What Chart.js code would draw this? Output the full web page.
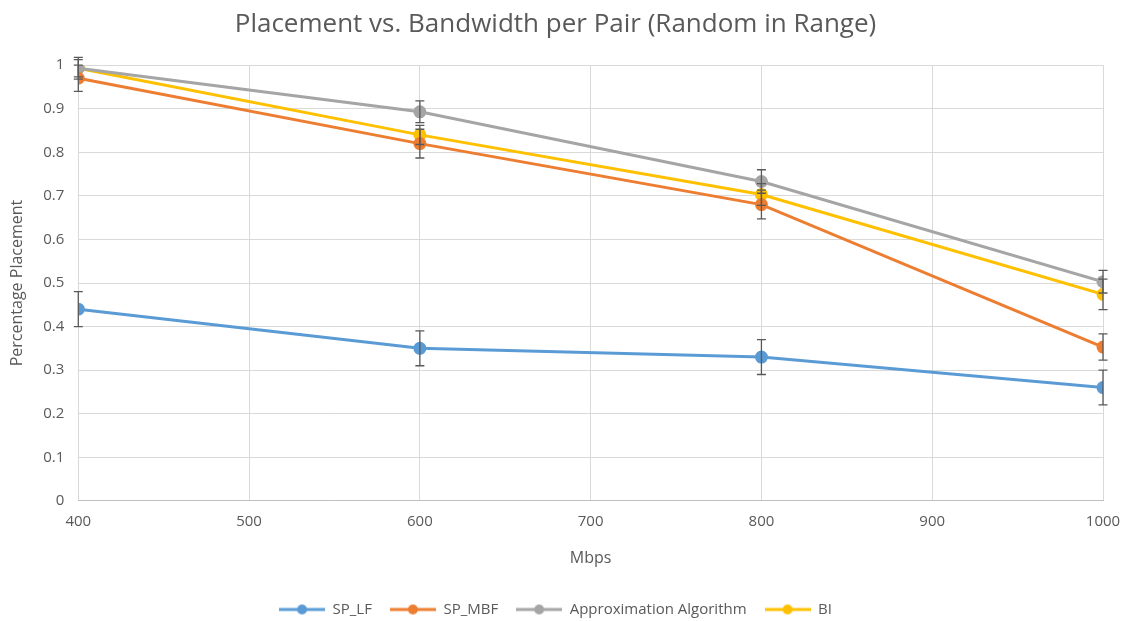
<!DOCTYPE html>
<html>
<head>
<meta charset="utf-8">
<script src="https://cdn.jsdelivr.net/npm/chart.js@4.4.1/dist/chart.umd.min.js"></script>
<style>
  html, body { margin: 0; padding: 0; background: #fff; }
  #wrap { width: 1128px; height: 621px; }
</style>
</head>
<body>
<div id="wrap"><canvas id="lineChart"></canvas></div>
<script>
const bandwidth = [400, 600, 800, 1000];
const spLf = [0.44, 0.35, 0.33, 0.26];
const spMbf = [0.97, 0.82, 0.68, 0.353];
const approxAlg = [0.993, 0.893, 0.733, 0.503];
const bi = [0.993, 0.84, 0.703, 0.474];
const spLfErr = [0.04, 0.04, 0.04, 0.04];
const spMbfErr = [0.03, 0.033, 0.033, 0.03];
const approxErr = [0.025, 0.025, 0.027, 0.026];
const biErr = [0.02, 0.022, 0.025, 0.035];

const seriesNames = ["SP_LF", "SP_MBF", "Approximation Algorithm", "BI"];
const seriesColors = ["#5B9BD5", "#ED7D31", "#A5A5A5", "#FFC000"];
const seriesValues = [spLf, spMbf, approxAlg, bi];
const seriesErrors = [spLfErr, spMbfErr, approxErr, biErr];

const fontFamily = "'Open Sans', Lato, sans-serif";

function legendIcon(color) {
    const c = document.createElement("canvas");
    c.width = 46; c.height = 12;
    const g = c.getContext("2d");
    g.strokeStyle = color;
    g.lineWidth = 3;
    g.beginPath(); g.moveTo(0, 6); g.lineTo(46, 6); g.stroke();
    g.fillStyle = color;
    g.beginPath(); g.arc(23, 6, 5, 0, Math.PI * 2); g.fill();
    return c;
}

const errorBars = {
    id: "errorBars",
    afterDatasetsDraw(chart) {
        const ctx = chart.ctx;
        const xs = chart.scales.x, ys = chart.scales.y;
        ctx.save();
        ctx.strokeStyle = "#595959";
        ctx.lineWidth = 1.3;
        chart.data.datasets.forEach((ds, i) => {
            const errs = seriesErrors[i];
            ds.data.forEach((pt, j) => {
                const x = xs.getPixelForValue(pt.x);
                const y1 = ys.getPixelForValue(pt.y + errs[j]);
                const y2 = ys.getPixelForValue(pt.y - errs[j]);
                ctx.beginPath();
                ctx.moveTo(x, y1); ctx.lineTo(x, y2);
                ctx.moveTo(x - 4.5, y1); ctx.lineTo(x + 4.5, y1);
                ctx.moveTo(x - 4.5, y2); ctx.lineTo(x + 4.5, y2);
                ctx.stroke();
            });
        });
        ctx.restore();
    }
};

const datasets = seriesNames.map((name, i) => ({
    label: name,
    data: bandwidth.map((b, j) => ({ x: b, y: seriesValues[i][j] })),
    borderColor: seriesColors[i],
    backgroundColor: seriesColors[i],
    pointBackgroundColor: seriesColors[i],
    pointBorderColor: seriesColors[i],
    borderWidth: 3,
    pointRadius: 5,
    tension: 0,
    fill: false
}));

new Chart(document.getElementById("lineChart").getContext("2d"), {
    type: "line",
    data: { datasets: datasets },
    plugins: [errorBars],
    options: {
        responsive: true,
        maintainAspectRatio: false,
        animation: false,
        layout: { padding: { left: 8, right: 25, top: 7, bottom: -6 } },
        plugins: {
            title: {
                display: true,
                text: "Placement vs. Bandwidth per Pair (Random in Range)",
                color: "#595959",
                font: { family: fontFamily, size: 26, weight: "normal" },
                padding: { top: 2, bottom: 25 }
            },
            legend: {
                position: "bottom",
                labels: {
                    color: "#595959",
                    font: { family: fontFamily, size: 15 },
                    usePointStyle: true,
                    pointStyleWidth: 46,
                    boxHeight: 12,
                    padding: 18,
                    generateLabels: chart => chart.data.datasets.map((ds, i) => ({
                        text: ds.label,
                        pointStyle: legendIcon(seriesColors[i]),
                        fillStyle: seriesColors[i],
                        strokeStyle: seriesColors[i],
                        fontColor: "#595959",
                        lineWidth: 0,
                        datasetIndex: i
                    }))
                }
            },
            tooltip: { enabled: false }
        },
        scales: {
            x: {
                type: "linear",
                min: 400,
                max: 1000,
                afterFit: scale => { scale.paddingRight = 0; },
                ticks: {
                    stepSize: 100,
                    color: "#595959",
                    font: { family: fontFamily, size: 15 },
                    padding: 12,
                    callback: v => String(v)
                },
                title: {
                    display: true,
                    text: "Mbps",
                    color: "#595959",
                    font: { family: fontFamily, size: 16 },
                    padding: { top: 6, bottom: 16 }
                },
                grid: { color: "#d9d9d9", drawTicks: false },
                border: { color: "#bfbfbf" }
            },
            y: {
                min: 0,
                max: 1,
                ticks: {
                    stepSize: 0.1,
                    color: "#595959",
                    font: { family: fontFamily, size: 15 },
                    padding: 14,
                    callback: v => String(Math.round(v * 10) / 10)
                },
                title: {
                    display: true,
                    text: "Percentage Placement",
                    color: "#595959",
                    font: { family: fontFamily, size: 16 },
                    padding: { top: 0, bottom: 2 }
                },
                grid: { color: "#d9d9d9", drawTicks: false },
                border: { display: false }
            }
        }
    }
});
</script>
</body>
</html>
